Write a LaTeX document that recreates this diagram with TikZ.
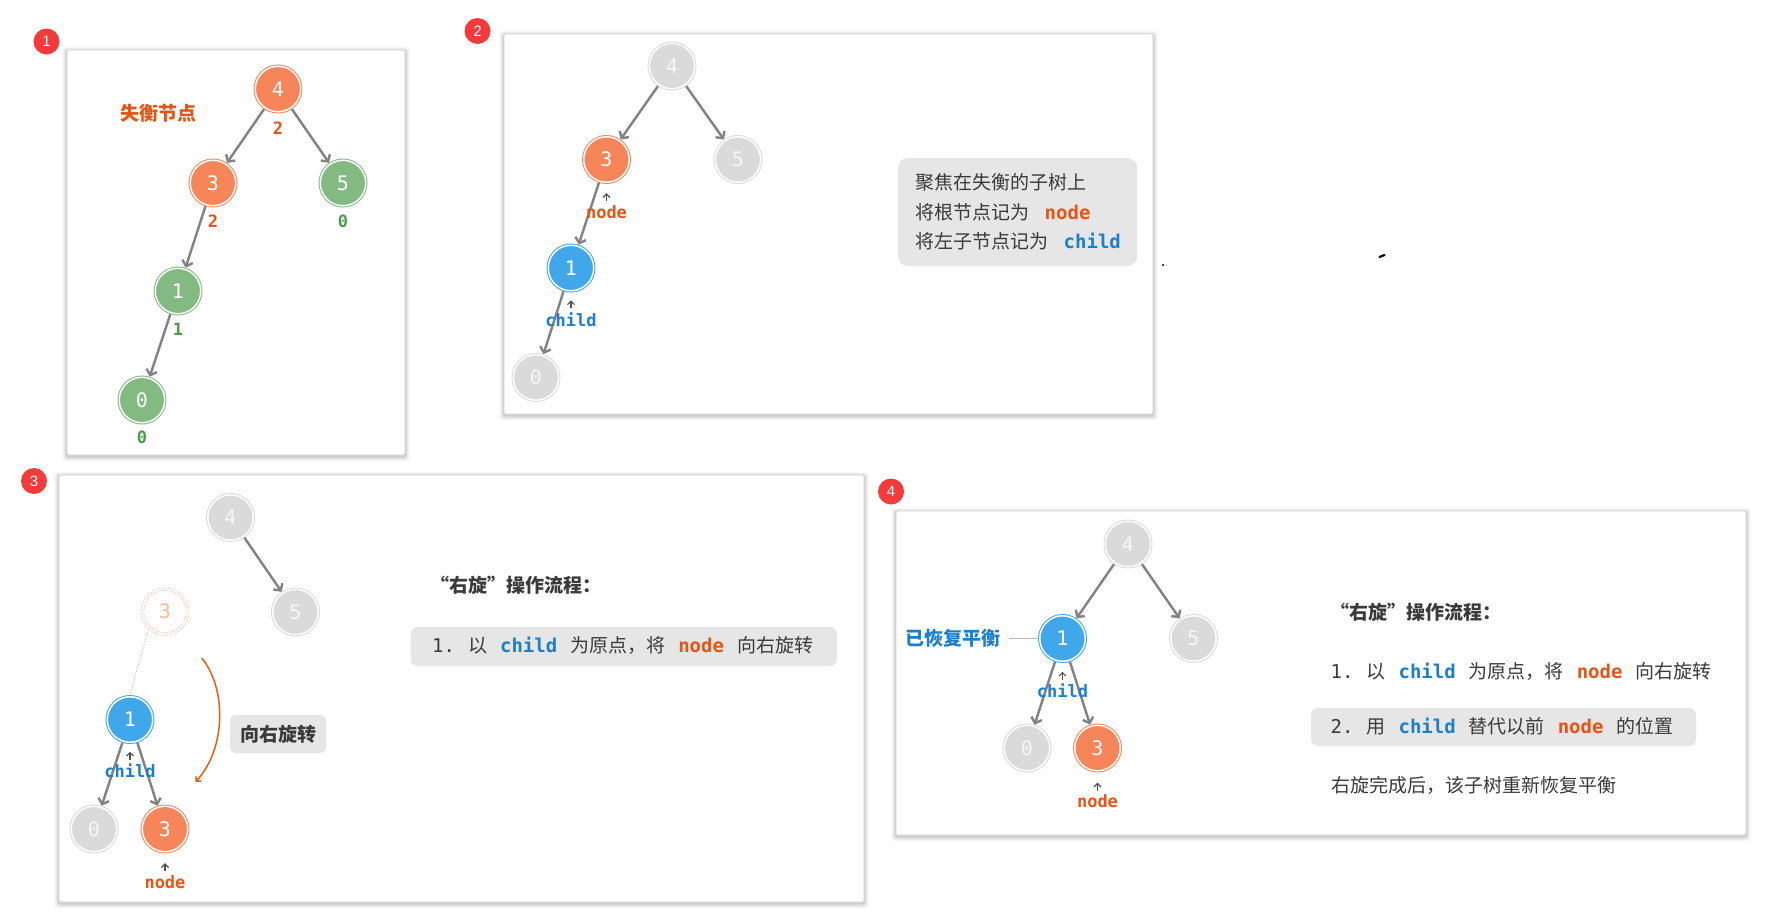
\documentclass[tikz,border=0pt]{standalone}
\usepackage{fontspec}
\usetikzlibrary{arrows.meta,calc}
\setmainfont{Noto Sans CJK SC}
\newfontfamily\mono{DejaVu Sans Mono}
\newfontfamily\badgefont{Liberation Sans}
\definecolor{cor}{HTML}{F6855A}
\definecolor{corr}{HTML}{E85412}
\definecolor{cgr}{HTML}{82BA82}
\definecolor{cgrt}{HTML}{4B9B4B}
\definecolor{cbl}{HTML}{41A7EB}
\definecolor{cblt}{HTML}{1C7FC9}
\definecolor{cgy}{HTML}{DADADA}
\definecolor{cgyt}{HTML}{F6F6F6}
\definecolor{cedge}{HTML}{828282}
\definecolor{ctext}{HTML}{3A3A3A}
\definecolor{cbox}{HTML}{E6E6E6}
\definecolor{cbadge}{HTML}{F43B3B}
\definecolor{cghost}{HTML}{F9BB9E}
\definecolor{carc}{HTML}{EE5A17}
\definecolor{cptr}{HTML}{505050}
\definecolor{cbord}{HTML}{D2D2D2}
\definecolor{cline}{HTML}{BBBBBB}
\newcommand{\kc}{{\mono\bfseries\color{cblt}child}}
\newcommand{\kn}{{\mono\bfseries\color{corr}node}}
\newcommand{\fw}[1]{{\addfontfeature{CharacterWidth=Full}#1}}
\newcommand{\panelbox}[4]{%
  \foreach \d/\o in {5/0.02,4/0.03,3/0.04,2/0.05,1/0.06}{%
    \fill[black,opacity=\o,rounded corners=3pt] (#1-\d,#2-\d+1.5) rectangle (#3+\d,#4+\d+1.5);}%
  \fill[white,rounded corners=2pt] (#1,#2) rectangle (#3,#4);
  \draw[cbord,line width=0.6pt,rounded corners=2pt] (#1,#2) rectangle (#3,#4);
}
\tikzset{
  tn/.style={circle, inner sep=0pt, minimum size=45.5pt, outer sep=1.75pt,
    line width=1pt, double distance=1.5pt,
    font=\mono\fontsize{20}{20}\selectfont, text=white},
  tor/.style={tn, fill=cor, draw=cor, double=white},
  tgr/.style={tn, fill=cgr, draw=cgr, double=white},
  tbl/.style={tn, fill=cbl, draw=cbl, double=white},
  tgy/.style={tn, fill=cgy, draw=cgy, double=white, text=cgyt},
  tghost/.style={circle, inner sep=0pt, minimum size=49pt, text=cghost,
    font=\mono\fontsize{20}{20}\selectfont},
  link/.style={draw=cedge, line width=2.4pt, -{Straight Barb[length=5pt,width=11pt]}},
  ptr/.style={draw=cptr, line width=1.1pt, -{Straight Barb[length=3.5pt,width=7pt]}},
  hl/.style={inner sep=0pt, font=\mono\bfseries\fontsize{17}{17}\selectfont},
  lab/.style={inner sep=0pt, font=\mono\bfseries\fontsize{17}{17}\selectfont},
  txt/.style={inner sep=0pt, anchor=west, text height=15pt, text depth=4pt,
    font=\fontsize{19}{19}\selectfont, text=ctext},
  btxt/.style={txt, font=\bfseries\fontsize{19}{19}\selectfont},
  gbox/.style={fill=cbox, rounded corners=7pt, inner sep=0pt},
  badge/.style={circle, fill=cbadge, minimum size=26pt, inner sep=0pt, text=white,
    font=\badgefont\fontsize{15}{15}\selectfont},
}
\begin{document}
\begin{tikzpicture}[x=1pt,y=-1pt]
\useasboundingbox (0,0) rectangle (1767,913);
\fill[white] (0,0) rectangle (1767,913);

% panels
\panelbox{67}{50}{405}{455}
\panelbox{504}{34}{1153}{414}
\panelbox{59}{475}{864}{902}
\panelbox{896}{511}{1746}{835}

% badges
\node[badge] (bd1) at (46.5,41.5) {1};
\node[badge] (bd2) at (477.5,31) {2};
\node[badge] (bd3) at (34,481) {3};
\node[badge] (bd4) at (891,491.5) {4};

% ---------- panel 1
\node[tor] (a4) at (278,89) {4};
\node[tor] (a3) at (213,183) {3};
\node[tgr] (a5) at (343,183) {5};
\node[tgr] (a1) at (178,291) {1};
\node[tgr] (a0) at (142,400) {0};
\draw[link] (a4) -- (a3);
\draw[link] (a4) -- (a5);
\draw[link] (a3) -- (a1);
\draw[link] (a1) -- (a0);
\node[hl, text=corr] (a4h) at (278,128) {2};
\node[hl, text=corr] (a3h) at (213,221) {2};
\node[hl, text=cgrt] (a5h) at (343,221) {0};
\node[hl, text=cgrt] (a1h) at (178,329) {1};
\node[hl, text=cgrt] (a0h) at (142,437) {0};
\node[inner sep=0pt, text=corr, font=\bfseries\fontsize{19}{19}\selectfont] (imb) at (158,113) {失衡节点};

% ---------- panel 2
\node[tgy] (b4) at (672,66) {4};
\node[tor] (b3) at (606.5,159.5) {3};
\node[tgy] (b5) at (738,159.5) {5};
\node[tbl] (b1) at (571,268) {1};
\node[tgy] (b0) at (536,377.5) {0};
\draw[link] (b4) -- (b3);
\draw[link] (b4) -- (b5);
\draw[link] (b3) -- (b1);
\draw[link] (b1) -- (b0);
\node[lab, text=corr] (b3l) at (606.5,212) {node};
\node[lab, text=cblt] (b1l) at (571,319.5) {child};
\draw[ptr] ([yshift=4pt]b3l.north) -- ++(0,-8);
\draw[ptr] ([yshift=4pt]b1l.north) -- ++(0,-8);
\node[gbox, minimum width=239pt, minimum height=108pt, rounded corners=10pt] (b-box) at (1017.5,212) {};
\node[txt] (b-t1) at (915,183.5) {聚焦在失衡的子树上};
\node[txt] (b-t2) at (915,213.5) {将根节点记为\hspace{15.5pt}\kn};
\node[txt] (b-t3) at (915,242.5) {将左子节点记为\hspace{15.5pt}\kc};
\fill[black] (1163,265) circle[radius=1.2];
\draw[black, line width=2.2pt, line cap=round] (1379.5,257) -- (1384.5,255);

% ---------- panel 3
\node[tgy] (c4) at (230.5,517.5) {4};
\node[tgy] (c5) at (295.5,612) {5};
\node[tghost] (cg3) at (165,611.5) {3};
\draw[cghost, line width=0.9pt, dash pattern=on 0.9pt off 1.4pt] (cg3) circle[radius=23.8];
\draw[cghost, line width=0.9pt, dash pattern=on 0.9pt off 1.4pt] (cg3) circle[radius=21.2];
\node[tbl] (c1) at (130,719.5) {1};
\node[tgy] (c0) at (94,829) {0};
\node[tor] (c3) at (165,829) {3};
\draw[link] (c4) -- (c5);
\draw[link] (c1) -- (c0);
\draw[link] (c1) -- (c3);
\draw[cline, line width=0.9pt, dash pattern=on 0.9pt off 1.5pt] (cg3.-133) -- (c1.north);
\node[lab, text=cblt] (c1l) at (130,771) {child};
\node[lab, text=corr] (c3l) at (165,882) {node};
\draw[ptr] ([yshift=4pt]c1l.north) -- ++(0,-8);
\draw[ptr] ([yshift=4pt]c3l.north) -- ++(0,-8);
\coordinate (rs) at (201.7,658);
\coordinate (re) at (195.5,782);
\draw[carc, line width=1.5pt, -{Straight Barb[length=3.5pt,width=7pt]}] (rs) .. controls (226.5,688) and (226.5,748) .. (re);
\node[gbox, minimum width=96pt, minimum height=38pt, rounded corners=6pt,
  font=\bfseries\fontsize{19}{19}\selectfont, text=ctext] (rot) at (278,734) {向右旋转};
\node[btxt] (c-title) at (430,587) {\fw{“}右旋\fw{”}操作流程：};
\node[gbox, minimum width=426.5pt, minimum height=39pt] (c-box) at (623.75,646.5) {};
\node[txt] (c-step1) at (432,646.5) {{\mono 1.}\hspace{13pt}以\hspace{13pt}\kc\hspace{13pt}为原点，将\hspace{13pt}\kn\hspace{13pt}向右旋转};

% ---------- panel 4
\node[tgy] (d4) at (1128,544) {4};
\node[tbl] (d1) at (1062.5,638.5) {1};
\node[tgy] (d5) at (1193.5,638.5) {5};
\node[tgy] (d0) at (1027,748) {0};
\node[tor] (d3) at (1097.5,748) {3};
\draw[link] (d4) -- (d1);
\draw[link] (d4) -- (d5);
\draw[link] (d1) -- (d0);
\draw[link] (d1) -- (d3);
\node[lab, text=cblt] (d1l) at (1062.5,691) {child};
\node[lab, text=corr] (d3l) at (1097.5,801.5) {node};
\draw[ptr] ([yshift=4pt]d1l.north) -- ++(0,-8);
\draw[ptr] ([yshift=4pt]d3l.north) -- ++(0,-8);
\node[inner sep=0pt, text=cblt, font=\bfseries\fontsize{19}{19}\selectfont] (bal) at (953,638.5) {已恢复平衡};
\draw[cline, line width=1pt] ([xshift=8pt]bal.east) -- (d1.west);
\node[btxt] (d-title) at (1330,613.5) {\fw{“}右旋\fw{”}操作流程：};
\node[txt] (d-step1) at (1330.5,672.5) {{\mono 1.}\hspace{13pt}以\hspace{13pt}\kc\hspace{13pt}为原点，将\hspace{13pt}\kn\hspace{13pt}向右旋转};
\node[gbox, minimum width=385pt, minimum height=38pt] (d-box) at (1503.5,727) {};
\node[txt] (d-step2) at (1330.5,727.5) {{\mono 2.}\hspace{13pt}用\hspace{13pt}\kc\hspace{13pt}替代以前\hspace{13pt}\kn\hspace{13pt}的位置};
\node[txt] (d-step3) at (1331,786.5) {右旋完成后，该子树重新恢复平衡};
\end{tikzpicture}
\end{document}
